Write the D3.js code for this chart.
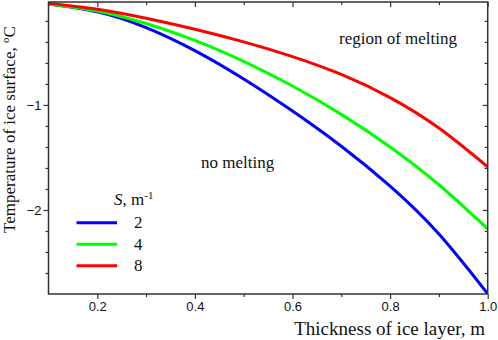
<!DOCTYPE html>
<html><head><meta charset="utf-8">
<script src="https://cdn.jsdelivr.net/npm/d3@7"></script>
<style>
body{margin:0;background:#fff}svg{display:block}
.serif{font-family:"Liberation Serif","Times New Roman",Times,"DejaVu Serif",serif}
.sans{font-family:"Liberation Sans",Arial,Helvetica,sans-serif}
</style>
</head><body>
<svg id="c" width="498" height="340"></svg>
<script>
const thickness = [0.1, 0.2, 0.3, 0.4, 0.5, 0.6, 0.7, 0.8, 0.9, 1.0];
const tempS2 = [-0.038, -0.113, -0.263, -0.483, -0.753, -1.058, -1.393, -1.773, -2.228, -2.798];
const tempS4 = [-0.038, -0.105, -0.225, -0.385, -0.585, -0.82, -1.09, -1.40, -1.76, -2.18];
const tempS8 = [-0.032, -0.089, -0.175, -0.28, -0.40, -0.54, -0.71, -0.93, -1.22, -1.59];
const seriesNames = ["2", "4", "8"];
const seriesColors = ["#0000ff", "#00ff00", "#ff0000"];
const xMajorTicks = [0.2, 0.4, 0.6, 0.8, 1.0];
const xMinorTicks = [0.3, 0.5, 0.7, 0.9];
const yMajorTicks = [-1, -2];
const yMinorTicks = [-0.2, -0.4, -0.6, -0.8, -1.2, -1.4, -1.6, -1.8, -2.2, -2.4, -2.6];

const svg = d3.select("#c");
const L = 48.5, R = 487.7, T = 2, B = 294;
const x = d3.scaleLinear().domain([0.1, 1.0]).range([L, R]);
const y = d3.scaleLinear().domain([-2.8, -0.02]).range([B, T]);
const axisColor = "#333";

svg.append("clipPath").attr("id", "clip").append("rect")
  .attr("x", L).attr("y", T).attr("width", R - L).attr("height", B - T);

const series = [tempS2, tempS4, tempS8];
const line = d3.line().x((d, i) => x(thickness[i])).y(d => y(d)).curve(d3.curveNatural);
const g = svg.append("g").attr("clip-path", "url(#clip)");
series.forEach((s, k) => {
  g.append("path").datum(s).attr("d", line).attr("fill", "none")
    .attr("stroke", seriesColors[k]).attr("stroke-width", 3);
});

function styleAxis(sel) {
  sel.select(".domain").remove();
  sel.attr("font-family", null).attr("font-size", null);
  sel.selectAll("line").attr("stroke", axisColor).attr("stroke-width", 1.2);
  sel.selectAll("text").attr("class", "sans").style("font-size", "13px").attr("fill", "#111");
}
const fmtX = d3.format(".1f");
svg.append("g").attr("transform", `translate(0,${B})`)
  .call(d3.axisBottom(x).tickValues(xMajorTicks).tickSize(5).tickPadding(3).tickFormat(fmtX)).call(styleAxis);
svg.append("g").attr("transform", `translate(0,${B})`)
  .call(d3.axisBottom(x).tickValues(xMinorTicks).tickSize(3).tickFormat("")).call(styleAxis);
svg.append("g").attr("transform", `translate(0,${T})`)
  .call(d3.axisBottom(x).tickValues(xMajorTicks).tickSize(5).tickFormat("")).call(styleAxis);
svg.append("g").attr("transform", `translate(0,${T})`)
  .call(d3.axisBottom(x).tickValues(xMinorTicks).tickSize(3).tickFormat("")).call(styleAxis);
svg.append("g").attr("transform", `translate(${L},0)`)
  .call(d3.axisLeft(y).tickValues(yMajorTicks).tickSize(5).tickPadding(2).tickFormat(d3.format("d"))).call(styleAxis);
svg.append("g").attr("transform", `translate(${L},0)`)
  .call(d3.axisLeft(y).tickValues(yMinorTicks).tickSize(3).tickFormat("")).call(styleAxis);
svg.append("g").attr("transform", `translate(${R},0)`)
  .call(d3.axisLeft(y).tickValues(yMajorTicks).tickSize(5).tickFormat("")).call(styleAxis);
svg.append("g").attr("transform", `translate(${R},0)`)
  .call(d3.axisLeft(y).tickValues(yMinorTicks).tickSize(3).tickFormat("")).call(styleAxis);

svg.append("rect").attr("x", L).attr("y", T).attr("width", R - L).attr("height", B - T)
  .attr("fill", "none").attr("stroke", axisColor).attr("stroke-width", 1.5);

function serifText(xp, yp, size) {
  return svg.append("text").attr("class", "serif").attr("x", xp).attr("y", yp)
    .style("font-size", size + "px").attr("fill", "#111");
}
serifText(485, 335, 19).attr("text-anchor", "end").text("Thickness of ice layer, m");
const yt = svg.append("text").attr("class", "serif").attr("transform", "translate(15,233) rotate(-90)")
  .style("font-size", "17px").attr("fill", "#111");
yt.append("tspan").text("Temperature of ice surface, ");
yt.append("tspan").style("font-size", "11px").attr("dy", -6).text("o");
yt.append("tspan").attr("dy", 6).text("C");

serifText(339, 44, 17).text("region of melting");
serifText(201, 168, 17).text("no melting");

const lt = serifText(114, 205, 17);
lt.append("tspan").attr("font-style", "italic").text("S");
lt.append("tspan").text(", m");
lt.append("tspan").style("font-size", "11px").attr("dy", -6).text("-1");
const legY = [222.7, 244.3, 265.7];
seriesNames.forEach((n, k) => {
  svg.append("line").attr("x1", 76.5).attr("x2", 117).attr("y1", legY[k]).attr("y2", legY[k])
    .attr("stroke", seriesColors[k]).attr("stroke-width", 3);
  serifText(134, legY[k] + 5.5, 17).text(n);
});
</script>
</body></html>
